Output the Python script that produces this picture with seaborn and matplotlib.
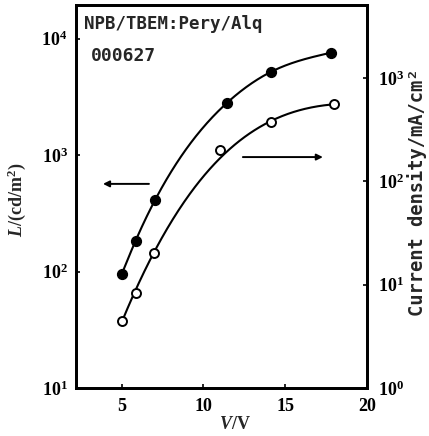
import numpy as np
import pandas as pd
import matplotlib
matplotlib.use("Agg")
import matplotlib.pyplot as plt
from matplotlib.ticker import LogLocator, LogFormatterSciNotation, FixedLocator
import seaborn as sns

# ---- data ----
v_lum = [5.0, 5.85, 7.05, 11.45, 14.15, 17.8]
lum = [95, 184, 414, 2820, 5210, 7590]          # cd/m^2 (left axis)
v_cur = [5.0, 5.85, 7.0, 11.0, 14.15, 18.0]
cur = [4.45, 8.3, 20.3, 201, 376, 561]          # mA/cm^2 (right axis)
x_ticks = [5, 10, 15, 20]
title1 = "NPB/TBEM:Pery/Alq"
title2 = "000627"

sns.set_theme(style="ticks")
plt.rcParams["font.family"] = ["Liberation Serif", "DejaVu Serif"]
plt.rcParams["font.weight"] = "bold"
plt.rcParams["mathtext.fontset"] = "custom"
plt.rcParams["mathtext.rm"] = "Liberation Serif:bold"
plt.rcParams["mathtext.it"] = "Liberation Serif:italic:bold"
plt.rcParams["mathtext.bf"] = "Liberation Serif:bold"
plt.rcParams["axes.linewidth"] = 2.0

fig = plt.figure(figsize=(4.29, 4.36), dpi=100)
ax = fig.add_axes([0.177, 0.110, 0.678, 0.8785])
ax2 = ax.twinx()


def natural_spline(x, y, xs):
    x = np.asarray(x, float)
    y = np.asarray(y, float)
    n = len(x)
    h = np.diff(x)
    A = np.zeros((n, n))
    r = np.zeros(n)
    A[0, 0] = A[-1, -1] = 1.0
    for i in range(1, n - 1):
        A[i, i - 1] = h[i - 1]
        A[i, i] = 2 * (h[i - 1] + h[i])
        A[i, i + 1] = h[i]
        r[i] = 3 * ((y[i + 1] - y[i]) / h[i] - (y[i] - y[i - 1]) / h[i - 1])
    c = np.linalg.solve(A, r)
    b = (y[1:] - y[:-1]) / h - h * (2 * c[:-1] + c[1:]) / 3
    d = (c[1:] - c[:-1]) / (3 * h)
    idx = np.clip(np.searchsorted(x, xs) - 1, 0, n - 2)
    dx = xs - x[idx]
    return y[idx] + b[idx] * dx + c[idx] * dx ** 2 + d[idx] * dx ** 3


def smooth_spline(x, y, n=300):
    xs = np.linspace(x[0], x[-1], n)
    ly = natural_spline(x, np.log10(y), xs)
    return pd.DataFrame({"x": xs, "y": 10 ** ly})


def smooth_fit(x, y, w, n=300):
    x = np.asarray(x, float)
    c = np.polyfit(x, np.log10(y), 3, w=w)
    xs = np.linspace(x[0], x[-1], n)
    return pd.DataFrame({"x": xs, "y": 10 ** np.polyval(c, xs)})


df_l = pd.DataFrame({"x": v_lum, "y": lum})
df_c = pd.DataFrame({"x": v_cur, "y": cur})

sns.lineplot(data=smooth_spline(v_lum, lum), x="x", y="y", ax=ax,
             color="black", lw=1.5)
sns.scatterplot(data=df_l, x="x", y="y", ax=ax, color="black", s=50,
                edgecolor="black", linewidth=1.0, zorder=5)
sns.lineplot(data=smooth_fit(v_cur, cur, [3, 2, 2, 1.3, 3, 3]), x="x", y="y",
             ax=ax2, color="black", lw=1.5)
sns.scatterplot(data=df_c, x="x", y="y", ax=ax2, color="white", s=42,
                edgecolor="black", linewidth=1.4, zorder=5)

ax.set_yscale("log")
ax2.set_yscale("log")
ax.set_xlim(2.2, 20)
ax.set_ylim(10, 19500)
ax2.set_ylim(1, 5100)
ax.xaxis.set_major_locator(FixedLocator(x_ticks))
for a in (ax, ax2):
    a.yaxis.set_major_locator(LogLocator(base=10, numticks=10))
    a.yaxis.set_minor_locator(FixedLocator([]))
    a.yaxis.set_major_formatter(LogFormatterSciNotation())
    for s in a.spines.values():
        s.set_linewidth(2.0)
        s.set_color("black")

ax.tick_params(axis="both", which="major", direction="in", length=3, width=1.2,
               labelsize=13, colors="black", pad=6)
ax.tick_params(axis="x", pad=7)
ax2.tick_params(axis="y", which="major", direction="in", length=3, width=1.2,
                labelsize=13, colors="black", pad=8)

ax.set_xlabel("")
ax.set_ylabel("")
ax2.set_ylabel("")
fig.text(235 / 429, 1 - 424 / 436, r"$\mathit{V}\mathbf{/V}$", fontsize=13,
         ha="center", va="center")
fig.text(17 / 429, 1 - 200 / 436, r"$\mathit{L}\mathbf{/(cd/m^2)}$", fontsize=13,
         rotation=90, ha="center", va="center")
fig.text(417 / 429, 1 - 192 / 436, "Current density/mA/cm²", fontsize=13.5,
         family=["DejaVu Sans Mono"], fontweight="bold", rotation=90,
         ha="center", va="center")

ax.text(0.0275, 0.950, title1, transform=ax.transAxes, fontsize=12.5,
        family=["DejaVu Sans Mono"], fontweight="bold", va="center", ha="left")
ax.text(0.052, 0.867, title2, transform=ax.transAxes, fontsize=13,
        family=["DejaVu Sans Mono"], fontweight="bold", va="center", ha="left")

arrow = dict(arrowstyle="-|>", lw=1.4, color="black", mutation_scale=9,
             shrinkA=0, shrinkB=0)
ax.annotate("", xy=(0.093, 0.533), xytext=(0.251, 0.533),
            xycoords="axes fraction", textcoords="axes fraction", arrowprops=arrow)
ax.annotate("", xy=(0.849, 0.603), xytext=(0.574, 0.603),
            xycoords="axes fraction", textcoords="axes fraction", arrowprops=arrow)

fig.savefig("out.png", dpi=100)
